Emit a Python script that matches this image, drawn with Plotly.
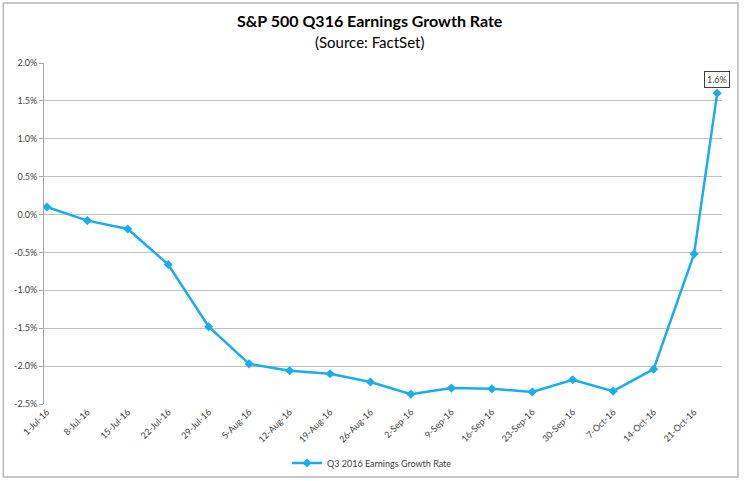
import plotly.graph_objects as go

dates = ["2016-07-01", "2016-07-08", "2016-07-15", "2016-07-22", "2016-07-29",
         "2016-08-05", "2016-08-12", "2016-08-19", "2016-08-26", "2016-09-02",
         "2016-09-09", "2016-09-16", "2016-09-23", "2016-09-30", "2016-10-07",
         "2016-10-14", "2016-10-21", "2016-10-25"]
growth = [0.10, -0.08, -0.19, -0.66, -1.48, -1.97, -2.06, -2.10, -2.21, -2.37,
          -2.29, -2.30, -2.34, -2.18, -2.33, -2.04, -0.52, 1.60]
tick_dates = dates[:17]
tick_labels = ["1-Jul-16", "8-Jul-16", "15-Jul-16", "22-Jul-16", "29-Jul-16",
               "5-Aug-16", "12-Aug-16", "19-Aug-16", "26-Aug-16", "2-Sep-16",
               "9-Sep-16", "16-Sep-16", "23-Sep-16", "30-Sep-16", "7-Oct-16",
               "14-Oct-16", "21-Oct-16"]
y_ticks = [2.0, 1.5, 1.0, 0.5, 0.0, -0.5, -1.0, -1.5, -2.0, -2.5]
y_labels = ["%.1f%%" % v for v in y_ticks]
series_name = "Q3 2016 Earnings Growth Rate"
title_text = "S&P 500 Q316 Earnings Growth Rate"
subtitle_text = "(Source: FactSet)"

blue = "#18AEEE"
font = "Lato"

fig = go.Figure()
fig.add_trace(go.Scatter(
    x=dates, y=growth, mode="lines+markers", name=series_name,
    line=dict(color=blue, width=2.5),
    marker=dict(symbol="diamond", size=7, color=blue),
))

fig.add_annotation(
    x=dates[-1], y=growth[-1], text="%.1f%%" % growth[-1],
    showarrow=False, yshift=14, xshift=0,
    bordercolor="#404040", borderwidth=1, borderpad=2, bgcolor="white",
    font=dict(family=font, size=9, color="#404040"),
)

fig.add_annotation(xref="paper", yref="paper", x=0.4808, y=1.0 + (63 - 20.5) / 341,
                   text="<b>" + title_text + "</b>", showarrow=False,
                   xanchor="center", yanchor="middle",
                   font=dict(family=font, size=16, color="#000000"))
fig.add_annotation(xref="paper", yref="paper", x=0.4808, y=1.0 + (63 - 42) / 341,
                   text=subtitle_text, showarrow=False,
                   xanchor="center", yanchor="middle",
                   font=dict(family=font, size=15, color="#000000"))

fig.add_shape(type="rect", xref="paper", yref="paper",
              x0=-0.060, x1=1.0235, y0=-0.214, y1=1.176,
              line=dict(color="#B8B8B8", width=1.5), layer="below")

fig.update_layout(
    width=744, height=481,
    margin=dict(l=44, r=22, t=63, b=77, autoexpand=False),
    paper_bgcolor="white", plot_bgcolor="white",
    font=dict(family=font, color="#404040"),
    showlegend=True,
    legend=dict(orientation="h", x=372 / 744, xref="container", xanchor="center",
                y=1 - 463 / 481, yref="container", yanchor="middle",
                font=dict(family=font, size=9, color="#404040"), bgcolor="rgba(0,0,0,0)"),
    xaxis=dict(
        type="date", automargin=False,
        range=["2016-06-30 12:00", "2016-10-25 20:00"],
        tickvals=tick_dates, ticktext=tick_labels, tickangle=-45,
        showgrid=False, showline=False, zeroline=False, ticks="",
        tickfont=dict(family=font, size=9, color="#404040"),
    ),
    yaxis=dict(
        range=[-2.5, 2.0], tickvals=y_ticks, ticktext=y_labels, automargin=False,
        showgrid=True, gridcolor="#C0C0C0", gridwidth=1,
        showline=True, linecolor="#A6A6A6", linewidth=1,
        zeroline=False, ticks="outside", ticklen=4, tickcolor="#A6A6A6",
        tickfont=dict(family=font, size=9, color="#404040"),
    ),
)

fig.write_html("out.html")
